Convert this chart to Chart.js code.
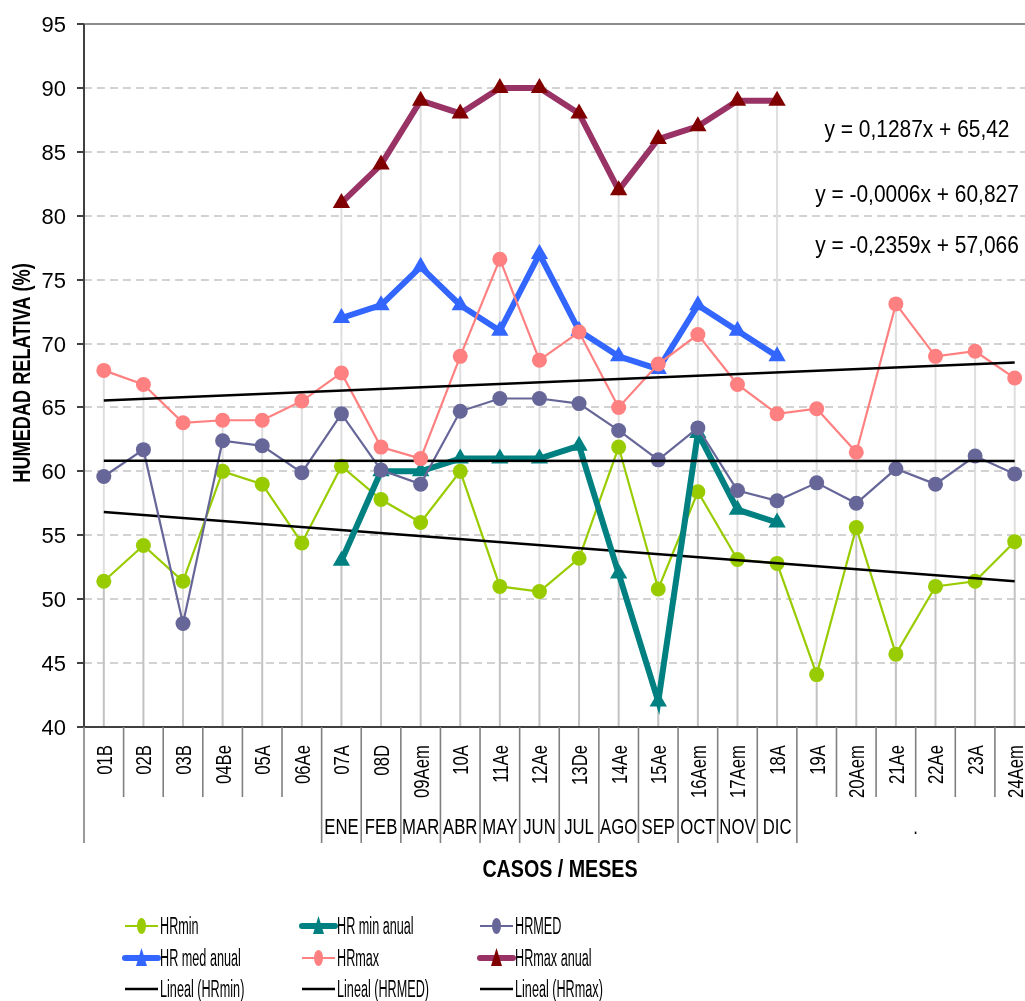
<!DOCTYPE html>
<html>
<head>
<meta charset="utf-8">
<script src="https://cdn.jsdelivr.net/npm/chart.js@4.4.0/dist/chart.umd.min.js"></script>
<style>
html,body{margin:0;padding:0;background:#fff;overflow:hidden}
#wrap{position:relative;width:1025px;height:1001px}
</style>
</head>
<body>
<div id="wrap"><canvas id="c"></canvas></div>
<script>
// ---------- data ----------
const caseLabels = ['01B','02B','03B','04Be','05A','06Ae','07A','08D','09Aem','10A','11Ae','12Ae','13De','14Ae','15Ae','16Aem','17Aem','18A','19A','20Aem','21Ae','22Ae','23A','24Aem'];
const monthLabels = ['ENE','FEB','MAR','ABR','MAY','JUN','JUL','AGO','SEP','OCT','NOV','DIC'];
const firstMonthCase = '07A';
const tailGroupLabel = '.';
const yTicks = [40,45,50,55,60,65,70,75,80,85,90,95];

const hrMin = [51.4,54.2,51.4,60.0,59.0,54.4,60.4,57.8,56.0,60.0,51.0,50.6,53.2,61.9,50.8,58.4,53.1,52.8,44.1,55.6,45.7,51.0,51.4,54.5];
const hrMed = [59.6,61.7,48.1,62.4,62.0,59.9,64.5,60.1,59.0,64.7,65.7,65.7,65.3,63.2,60.9,63.4,58.5,57.7,59.1,57.5,60.2,59.0,61.2,59.8];
const hrMax = [67.9,66.8,63.8,64.0,64.0,65.5,67.7,61.9,61.0,69.0,76.6,68.7,70.9,65.0,68.4,70.7,66.8,64.5,64.9,61.5,73.1,69.0,69.4,67.3];
const hrMinAnual = [53,60,60,61,61,61,62,52,42,63,57,56];
const hrMedAnual = [72,73,76,73,71,77,71,69,68,73,71,69];
const hrMaxAnual = [81,84,89,88,90,90,88,82,86,87,89,89];
// trend line coefficients [slope, intercept] as printed on the chart (x = 1..24)
const trendMinCoef = [-0.2359, 57.066];
const trendMedCoef = [-0.0006, 60.827];
const trendMaxCoef = [0.1287, 65.42];

// ---------- helpers ----------
const idx0 = caseLabels.indexOf(firstMonthCase);
const nCases = caseLabels.length;
const pts = arr => arr.map((v,i)=>({x:i,y:v}));
const ptsM = arr => arr.map((v,j)=>({x:idx0+j,y:v}));
const trendPts = c => [{x:0,y:c[0]*1+c[1]},{x:nCases-1,y:c[0]*nCases+c[1]}];
const fmt = v => String(v).replace('.',',');
const eqText = c => 'y = ' + fmt(c[0]) + 'x + ' + fmt(c[1]);
const FONT = '"Liberation Sans", Arial, sans-serif';
const NARROW = '"Liberation Sans Narrow", "Liberation Sans", Arial, sans-serif';

function txt(ctx, s, x, y, o){
  ctx.save();
  ctx.font = (o.bold?'bold ':'') + o.size + 'px ' + (o.family || FONT);
  ctx.fillStyle = o.color || '#000';
  ctx.textAlign = o.align || 'left';
  ctx.textBaseline = o.baseline || 'alphabetic';
  ctx.translate(x,y);
  if (o.rot) ctx.rotate(o.rot);
  ctx.scale(o.sx || 1, 1);
  ctx.fillText(s,0,0);
  ctx.restore();
}
function seg(ctx,x1,y1,x2,y2,color,w,dash){
  ctx.save();
  ctx.strokeStyle=color; ctx.lineWidth=w; ctx.setLineDash(dash||[]);
  ctx.beginPath(); ctx.moveTo(x1,y1); ctx.lineTo(x2,y2); ctx.stroke();
  ctx.restore();
}

const C = {
  min:'#99CC00', minA:'#008080', med:'#666699', medA:'#3366FF', max:'#FF8080', maxA:'#993366', maxAPt:'#800000'
};

const thin = (label,data,color,order)=>({label,data,order,borderColor:color,backgroundColor:color,
  borderWidth:2.2,pointStyle:'circle',pointRadius:7.5,pointBorderWidth:0,pointBackgroundColor:color,pointHoverRadius:7.5});
const thick = (label,data,color,ptColor,order)=>({label,data,order,borderColor:color,backgroundColor:ptColor,
  borderWidth:6,pointStyle:'triangle',pointRadius:10,pointBorderWidth:0,pointBackgroundColor:ptColor,pointHoverRadius:10,borderJoinStyle:'miter'});
const trend = (label,data,order)=>({label,data,order,borderColor:'#000',borderWidth:2.5,pointRadius:0,pointHoverRadius:0,isTrend:true});

const datasets = [
  thin('HRmin', pts(hrMin), C.min, 9),
  thick('HR min anual', ptsM(hrMinAnual), C.minA, C.minA, 7),
  thin('HRMED', pts(hrMed), C.med, 6),
  thick('HR med anual', ptsM(hrMedAnual), C.medA, C.medA, 4),
  thin('HRmax', pts(hrMax), C.max, 3),
  thick('HRmax anual', ptsM(hrMaxAnual), C.maxA, C.maxAPt, 1),
  trend('Lineal (HRmin)', trendPts(trendMinCoef), 8),
  trend('Lineal (HRMED)', trendPts(trendMedCoef), 5),
  trend('Lineal (HRmax)', trendPts(trendMaxCoef), 2)
];

// ---------- plugins ----------
const backPlugin = {
  id:'back',
  beforeDatasetsDraw(chart){
    const {ctx, chartArea:a, scales:{x:xs,y:ys}} = chart;
    // dashed horizontal gridlines
    yTicks.forEach(t=>{
      if (t===yTicks[0] || t===yTicks[yTicks.length-1]) return;
      const py = Math.round(ys.getPixelForValue(t));
      seg(ctx,a.left,py,a.right,py,'#C4C4C4',1.5,[8,5]);
    });
    // drop lines (dark below lowest value, light up to highest)
    for (let i=0;i<nCases;i++){
      const vals=[hrMin[i],hrMed[i],hrMax[i]];
      const j=i-idx0;
      if (j>=0 && j<monthLabels.length) vals.push(hrMinAnual[j],hrMedAnual[j],hrMaxAnual[j]);
      const lo=Math.min(...vals), hi=Math.max(...vals);
      const px=xs.getPixelForValue(i);
      seg(ctx,px,a.bottom,px,ys.getPixelForValue(lo),'#C2C2C2',2);
      seg(ctx,px,ys.getPixelForValue(lo),px,ys.getPixelForValue(hi),'#DEDEDE',2);
    }
  }
};

const frontPlugin = {
  id:'front',
  afterDraw(chart){
    const {ctx, chartArea:a, scales:{x:xs,y:ys}} = chart;
    // frame
    seg(ctx,a.left,a.top,a.right,a.top,'#8C8C8C',2);
    seg(ctx,a.left,a.top,a.left,a.bottom,'#404040',2);
    seg(ctx,a.left,a.bottom,a.right,a.bottom,'#404040',2);
    // y tick marks and labels
    yTicks.forEach(t=>{
      const py=Math.round(ys.getPixelForValue(t));
      seg(ctx,a.left-7,py,a.left,py,'#404040',2);
      txt(ctx,String(t),a.left-18,py+8,{size:22,align:'right',family:NARROW});
    });
    // category separators
    const rowEnd1 = a.bottom + 70, rowEnd2 = a.bottom + 116;
    for (let b=0;b<=nCases;b++){
      const px = xs.getPixelForValue(b-0.5);
      const long = (b===0) || (b>=idx0 && b<=idx0+monthLabels.length);
      seg(ctx,px,a.bottom,px,long?rowEnd2:rowEnd1,'#808080',1.6);
    }
    // category labels (rotated)
    caseLabels.forEach((l,i)=>{
      const px = xs.getPixelForValue(i);
      txt(ctx,l,px+7.9,a.bottom+18,{size:22,align:'right',rot:-Math.PI/2,sx:0.76});
    });
    // month labels
    monthLabels.forEach((m,j)=>{
      const px = xs.getPixelForValue(idx0+j);
      txt(ctx,m,px,a.bottom+107,{size:22,align:'center',sx:0.76});
    });
    const gx = (xs.getPixelForValue(idx0+monthLabels.length-0.5)+xs.getPixelForValue(nCases-0.5))/2;
    txt(ctx,tailGroupLabel,gx,a.bottom+107,{size:22,align:'center',sx:0.76});
    // axis titles
    txt(ctx,'CASOS / MESES',560,877,{size:23,bold:true,align:'center',sx:0.855});
    txt(ctx,'HUMEDAD RELATIVA (%)',30,373,{size:23,bold:true,align:'center',rot:-Math.PI/2,sx:0.79});
    // trend equations
    txt(ctx,eqText(trendMaxCoef),917,137,{size:23,align:'center',sx:0.91});
    txt(ctx,eqText(trendMedCoef),917,202,{size:23,align:'center',sx:0.91});
    txt(ctx,eqText(trendMinCoef),917,253,{size:23,align:'center',sx:0.91});
    // legend
    const colX=[125,302,480], rowY=[926,958,989];
    chart.data.datasets.forEach((ds,k)=>{
      const x0=colX[k%3], y0=rowY[Math.floor(k/3)], x1=x0+33, cx=(x0+x1)/2;
      ctx.save();
      ctx.strokeStyle=ds.borderColor; ctx.lineWidth=ds.borderWidth;
      ctx.lineCap = ds.borderWidth>4 ? 'round':'butt';
      ctx.beginPath(); ctx.moveTo(x0,y0); ctx.lineTo(x1,y0); ctx.stroke();
      if (!ds.isTrend){
        ctx.fillStyle=ds.pointBackgroundColor;
        ctx.beginPath();
        if (ds.pointStyle==='circle') ctx.ellipse(cx,y0,4.5,8,0,0,Math.PI*2);
        else { ctx.moveTo(cx,y0-10); ctx.lineTo(cx+5.5,y0+8); ctx.lineTo(cx-5.5,y0+8); ctx.closePath(); }
        ctx.fill();
      }
      ctx.restore();
      txt(ctx,ds.label,x1+2,y0+8,{size:23,align:'left',sx:0.55});
    });
  }
};

new Chart(document.getElementById('c'),{
  type:'line',
  data:{datasets},
  options:{
    responsive:true, maintainAspectRatio:false, animation:false, devicePixelRatio:1,
    layout:{autoPadding:false,padding:{top:24,bottom:274,left:0,right:0}},
    plugins:{legend:{display:false},tooltip:{enabled:false}},
    elements:{line:{tension:0}},
    scales:{
      x:{type:'linear',min:-0.5,max:23.26,display:false},
      y:{type:'linear',min:yTicks[0],max:yTicks[yTicks.length-1],
         afterFit(s){s.width=84;},
         ticks:{display:false,stepSize:5},
         grid:{display:false,drawTicks:false},border:{display:false}}
    }
  },
  plugins:[backPlugin,frontPlugin]
});
</script>
</body>
</html>
